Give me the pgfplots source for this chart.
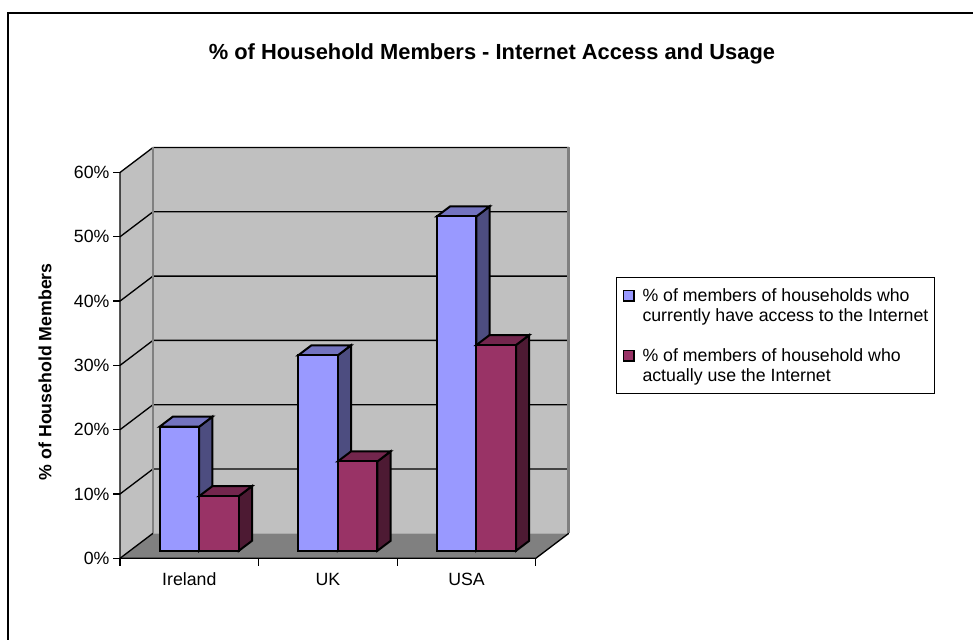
\documentclass[border=0pt]{standalone}
\usepackage{pgfplots}
\pgfplotsset{compat=1.18}
\usepackage{fontspec}
\setmainfont{Liberation Sans}
\definecolor{bfront}{HTML}{9999FF}
\definecolor{btop}{HTML}{7373BF}
\definecolor{bside}{HTML}{4D4D80}
\definecolor{mfront}{HTML}{993366}
\definecolor{mtop}{HTML}{73264D}
\definecolor{mside}{HTML}{4D1A33}
\definecolor{wallc}{HTML}{C0C0C0}
\definecolor{floorc}{HTML}{808080}
% one 3D bar: #1 left x, #2 right x, #3 value, #4 front, #5 top, #6 side colour
\newcommand{\cuboid}[6]{%
  \addplot3[forget plot, fill=#6, draw=black, line width=1.5pt] coordinates {(#2,0.3,0) (#2,0.7,0) (#2,0.7,#3) (#2,0.3,#3)} --cycle;
  \addplot3[forget plot, fill=#5, draw=black, line width=1.5pt] coordinates {(#1,0.3,#3) (#2,0.3,#3) (#2,0.7,#3) (#1,0.7,#3)} --cycle;
  \addplot3[forget plot, fill=#4, draw=black, line width=1.5pt] coordinates {(#1,0.3,0) (#2,0.3,0) (#2,0.3,#3) (#1,0.3,#3)} --cycle;
}
\newcommand{\lstrut}{\vrule height 10.5pt depth 4.5pt width 0pt}
\pgfplotsset{sqleg/.style={legend image code/.code={\draw[##1, draw=black, line width=1pt] (0pt,0.3pt) rectangle (8pt,8.3pt);}}}
\begin{document}
\begin{tikzpicture}
\begin{axis}[
  x={(103.95pt,0pt)}, y={(24.75pt,18.75pt)}, z={(0pt,4.8225pt)},
  xmin=0, xmax=3, ymin=0, ymax=1, zmin=0, zmax=60,
  enlargelimits=false, clip=false,
  axis lines=left, axis line style={draw=none},
  xtick={0.5,1.5,2.5}, xticklabels={Ireland,UK,USA},
  ytick=\empty,
  ztick={0,10,20,30,40,50,60},
  zticklabels={0\%,10\%,20\%,30\%,40\%,50\%,60\%},
  major tick length=0pt,
  tick label style={font=\fontsize{13.3}{16}\selectfont},
  xticklabel style={anchor=north, yshift=-7.4pt},
  zticklabel style={anchor=east, xshift=-4.4pt},
  zlabel={\% of Household Members},
  every axis z label/.style={at={(axis cs:-0.541,0,29.03)}, anchor=center, rotate=90, font=\bfseries\fontsize{13.3}{16}\selectfont},
  title={\% of Household Members - Internet Access and Usage},
  title style={at={(axis cs:2.684,0,74.8)}, anchor=south, font=\bfseries\fontsize{16.4}{19}\selectfont},
  legend style={at={(axis cs:3.5786,0,43.77)}, anchor=north west, draw=black, line width=0.75pt,
    font=\fontsize{13.3}{15}\selectfont, inner xsep=4.5pt, inner ysep=7.5pt,
    nodes={inner sep=0pt}, cells={anchor=base west}, row sep=3pt, column sep=6pt},
]
% walls and floor
\fill[floorc] (axis cs:0,0,0) -- (axis cs:3,0,0) -- (axis cs:3,1,0) -- (axis cs:0,1,0) -- cycle;
\fill[wallc] (axis cs:0,0,0) -- (axis cs:0,1,0) -- (axis cs:0,1,60) -- (axis cs:0,0,60) -- cycle;
\fill[wallc] (axis cs:0,1,0) -- (axis cs:3,1,0) -- (axis cs:3,1,60) -- (axis cs:0,1,60) -- cycle;
% gridlines
\pgfplotsinvokeforeach{10,20,30,40,50,60}{
  \draw[black, line width=1pt] (axis cs:0,0,#1) -- (axis cs:0,1,#1) -- (axis cs:3,1,#1);
}
% wall borders
\draw[floorc, line width=2pt] (axis cs:0,1,0) -- (axis cs:0,1,60);
\draw[floorc, line width=2pt] (axis cs:3,1,0) -- (axis cs:3,1,60);
% axis edges
\draw[black, line width=1pt] (axis cs:0,0,60) -- (axis cs:0,0,0) -- (axis cs:3,0,0) -- (axis cs:3,1,0);
\draw[black, line width=1pt] (axis cs:0,0,0) -- (axis cs:0,1,0);
% ticks
\pgfplotsinvokeforeach{0,10,20,30,40,50,60}{
  \draw[black, line width=1pt] (axis cs:0,0,#1) -- ++(-5pt,0pt);
}
\pgfplotsinvokeforeach{0,1,2,3}{
  \draw[black, line width=1pt] (axis cs:#1,0,0) -- ++(0pt,-5.75pt);
}
% bars (value in %)
\cuboid{0.2143}{0.5}{19.3}{bfront}{btop}{bside}
\cuboid{0.5}{0.7857}{8.5}{mfront}{mtop}{mside}
\cuboid{1.2143}{1.5}{30.4}{bfront}{btop}{bside}
\cuboid{1.5}{1.7857}{13.9}{mfront}{mtop}{mside}
\cuboid{2.2143}{2.5}{52.0}{bfront}{btop}{bside}
\cuboid{2.5}{2.7857}{32.0}{mfront}{mtop}{mside}
\addlegendimage{sqleg, fill=bfront}
\addlegendentry{\lstrut\% of members of households who}
\addlegendimage{empty legend}
\addlegendentry{\lstrut currently have access to the Internet}
\addlegendimage{empty legend}
\addlegendentry{\lstrut}
\addlegendimage{sqleg, fill=mfront}
\addlegendentry{\lstrut\% of members of household who}
\addlegendimage{empty legend}
\addlegendentry{\lstrut actually use the Internet}
\coordinate (O) at (axis cs:0,0,0);
\end{axis}
\draw[line width=1.5pt] ([shift={(641pt,408.975pt)}]O) -- ([shift={(-84pt,408.975pt)}]O) -- ([shift={(-84pt,-62pt)}]O);
\pgfresetboundingbox
\path ([shift={(-90pt,418.725pt)}]O) rectangle ([shift={(639.75pt,-60.525pt)}]O);
\end{tikzpicture}
\end{document}
